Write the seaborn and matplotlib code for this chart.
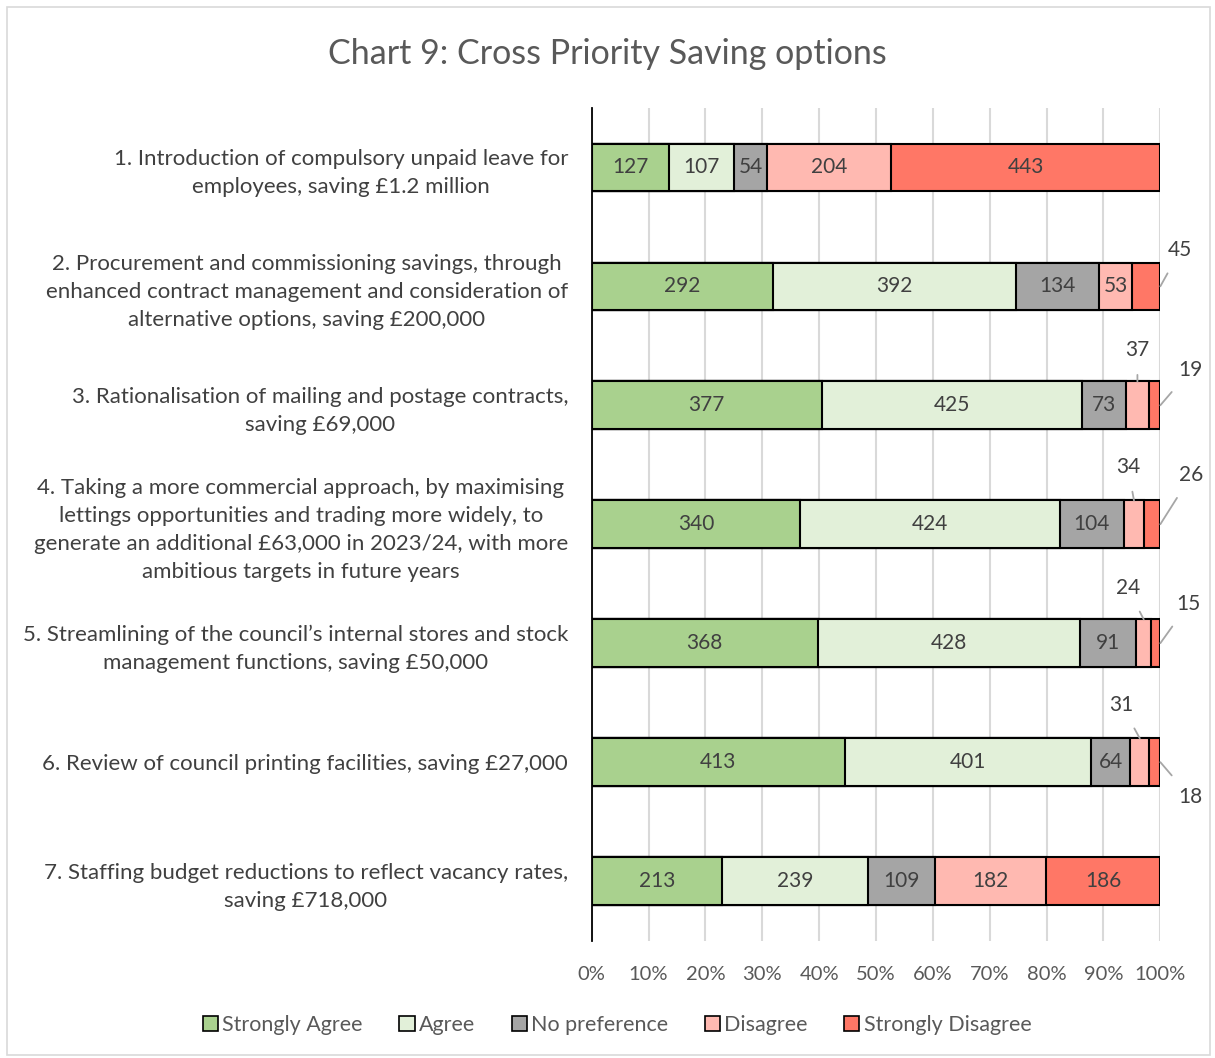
import numpy as np
import pandas as pd
import seaborn as sns
import matplotlib.pyplot as plt
from matplotlib.patches import Patch, Rectangle

# Data
options = [
    "1. Introduction of compulsory unpaid leave for\nemployees, saving £1.2 million",
    "2. Procurement and commissioning savings, through\nenhanced contract management and consideration of\nalternative options, saving £200,000",
    "3. Rationalisation of mailing and postage contracts,\nsaving £69,000",
    "4. Taking a more commercial approach, by maximising\nlettings opportunities and trading more widely, to\ngenerate an additional £63,000 in 2023/24, with more\nambitious targets in future years",
    "5. Streamlining of the council\u2019s internal stores and stock\nmanagement functions, saving £50,000",
    "6. Review of council printing facilities, saving £27,000",
    "7. Staffing budget reductions to reflect vacancy rates,\nsaving £718,000",
]
responses = ["Strongly Agree", "Agree", "No preference", "Disagree", "Strongly Disagree"]
strongly_agree = [127, 292, 377, 340, 368, 413, 213]
agree = [107, 392, 425, 424, 428, 401, 239]
no_preference = [54, 134, 73, 104, 91, 64, 109]
disagree = [204, 53, 37, 34, 24, 31, 182]
strongly_disagree = [443, 45, 19, 26, 15, 18, 186]

colors = ["#A9D18E", "#E2F0D9", "#A5A5A5", "#FFB9B1", "#FF7766"]

# small segments get their label outside with a leader line: (row, response) -> pixel offset
outside = {
    (1, 4): (20, 36),
    (2, 3): (0, 31), (2, 4): (30, 35),
    (3, 3): (-6, 33), (3, 4): (31, 49),
    (4, 3): (-16, 31), (4, 4): (28, 39),
    (5, 3): (-18, 33), (5, 4): (30, -35),
}

counts = pd.DataFrame(
    np.array([strongly_agree, agree, no_preference, disagree, strongly_disagree]).T,
    index=options, columns=responses)
pct = counts.div(counts.sum(axis=1), axis=0) * 100
cum = pct.cumsum(axis=1)

sns.set_theme(style="white")
plt.rcParams["font.family"] = ["Lato", "DejaVu Sans"]

fig = plt.figure(figsize=(12.15, 10.58), dpi=100)
ax = fig.add_axes([0.487, 0.111, 0.468, 0.787])

# stacked 100% bars: overlay cumulative bars, widest first
for i in range(len(responses) - 1, -1, -1):
    df = pd.DataFrame({"option": options, "value": cum[responses[i]].values})
    sns.barplot(data=df, x="value", y="option", color=colors[i], orient="h",
                width=0.4, saturation=1, edgecolor="black", linewidth=1.5,
                ax=ax, zorder=3)

# value labels
for r in range(len(options)):
    for j, resp in enumerate(responses):
        left = cum[resp].iloc[r] - pct[resp].iloc[r]
        mid = left + pct[resp].iloc[r] / 2
        val = counts[resp].iloc[r]
        if (r, j) in outside:
            dx, dy = outside[(r, j)]
            if j == 4:
                xy = (100, r)
            else:
                xy = (mid, r - 0.2)
            ax.annotate(str(val), xy=xy, xytext=(dx, dy), textcoords="offset pixels",
                        ha="center", va="center", fontsize=15, color="#404040",
                        arrowprops=dict(arrowstyle="-", color="#A6A6A6", lw=1.3,
                                        shrinkA=8, shrinkB=0), zorder=5)
        else:
            ax.text(mid, r, str(val), ha="center", va="center", fontsize=15,
                    color="#404040", zorder=5)

ax.set_xlim(0, 100)
ax.set_ylim(6.5, -0.5)
ax.set_xticks(np.arange(0, 101, 10))
ax.set_xticklabels([f"{t}%" for t in range(0, 101, 10)])
ax.xaxis.grid(True, color="#D9D9D9", lw=1.5, zorder=0)
ax.set_axisbelow(True)
ax.set_xlabel("")
ax.set_ylabel("")
for s in ["top", "right", "bottom"]:
    ax.spines[s].set_visible(False)
ax.spines["left"].set_color("black")
ax.spines["left"].set_linewidth(1.3)
ax.spines["left"].set_zorder(4)
ax.tick_params(axis="x", length=0, labelsize=14.5, labelcolor="#595959", pad=18)
ax.tick_params(axis="y", length=0, labelsize=16, labelcolor="#404040", pad=17)
for lab in ax.get_yticklabels():
    lab.set_multialignment("center")
    lab.set_linespacing(1.5)

fig.suptitle("Chart 9: Cross Priority Saving options", fontsize=24.5, color="#595959", y=0.964)

handles = [Patch(facecolor=c, edgecolor="black", linewidth=1.2) for c in colors]
fig.legend(handles, responses, loc="center", bbox_to_anchor=(0.508, 0.031), ncol=5,
           frameon=False, fontsize=15.5, handlelength=0.7, handleheight=0.7,
           handletextpad=0.2, columnspacing=1.7, labelcolor="#595959")

fig.add_artist(Rectangle((0.006, 0.003), 0.99, 0.99, transform=fig.transFigure,
                         fill=False, edgecolor="#D9D9D9", lw=1.2))

fig.savefig("out.png", dpi=100)
